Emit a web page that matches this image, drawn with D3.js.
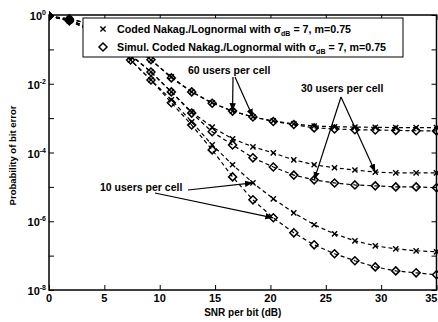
<!DOCTYPE html>
<html><head><meta charset="utf-8">
<script src="https://cdn.jsdelivr.net/npm/d3@7"></script>
<style>
body{margin:0;background:#fff}
svg{display:block}
text{font-family:"Liberation Sans",Arial,sans-serif;font-weight:bold;fill:#000}
</style>
</head><body>
<svg id="c" width="438" height="322"></svg>
<script>
// ---- data ----
const snr = [0, 1.84, 3.68, 5.53, 7.37, 9.21, 11.05, 12.89, 14.74, 16.58, 18.42, 20.26, 22.11, 23.95, 25.79, 27.63, 29.47, 31.32, 33.16, 35];
const ana60 = [0.93, 0.77, 0.55, 0.32, 0.144, 0.049, 0.0158, 0.0058, 0.0028, 0.0016, 0.00108, 8.3e-4, 6.8e-4, 5.9e-4, 5.6e-4, 5.5e-4, 5.4e-4, 5.3e-4, 5.3e-4, 5.3e-4];
const sim60 = [0.93, 0.77, 0.55, 0.32, 0.144, 0.050, 0.0148, 0.0058, 0.0027, 0.0016, 0.00108, 8.0e-4, 6.5e-4, 5.2e-4, 4.85e-4, 4.6e-4, 4.5e-4, 4.4e-4, 4.3e-4, 4.25e-4];
const ana30 = [0.93, 0.72, 0.42, 0.19, 0.069, 0.022, 0.0058, 0.0015, 5.5e-4, 2.5e-4, 1.46e-4, 9.7e-5, 6.1e-5, 4.4e-5, 3.6e-5, 3.1e-5, 2.7e-5, 2.55e-5, 2.55e-5, 2.55e-5];
const sim30 = [0.93, 0.72, 0.42, 0.19, 0.069, 0.022, 0.0058, 0.0014, 4.0e-4, 1.66e-4, 7.0e-5, 3.8e-5, 2.2e-5, 1.6e-5, 1.3e-5, 1.14e-5, 1.07e-5, 1.0e-5, 1.0e-5, 9.4e-6];
const ana10 = [0.93, 0.67, 0.37, 0.153, 0.049, 0.0129, 0.0034, 7.8e-4, 1.66e-4, 4.4e-5, 1.31e-5, 4.5e-6, 1.75e-6, 7.9e-7, 4.3e-7, 2.7e-7, 1.93e-7, 1.58e-7, 1.38e-7, 1.29e-7];
const sim10 = [0.93, 0.67, 0.37, 0.153, 0.049, 0.0129, 0.0028, 6.3e-4, 1.19e-4, 1.95e-5, 4.2e-6, 1.26e-6, 4.6e-7, 2.06e-7, 1.13e-7, 7.1e-8, 4.7e-8, 3.6e-8, 3.16e-8, 2.77e-8];
const xTicks = [0, 5, 10, 15, 20, 25, 30, 35];
const yDecades = [1, 1e-1, 1e-2, 1e-3, 1e-4, 1e-5, 1e-6, 1e-7, 1e-8];
const yLabelExps = [0, -2, -4, -6, -8];
const legendMain = ["Coded Nakag./Lognormal with \u03c3", "Simul. Coded Nakag./Lognormal with \u03c3"];
const legendSub = "dB";
const legendTail = " = 7, m=0.75";
const xTitle = "SNR per bit (dB)";
const yTitle = "Probability of bit error";
const annoLabels = ["60 users per cell", "30 users per cell", "10 users per cell"];

// ---- layout ----
const svg = d3.select("#c");
const L = 49, R = 436.5, T = 15, B = 290;
const x = d3.scaleLinear().domain([0, 35]).range([L, R]);
const y = d3.scaleLog().domain([1e-8, 1]).range([B, T]);

// axes (inward ticks)
svg.append("g").attr("transform", `translate(0,${B})`)
  .call(d3.axisBottom(x).tickValues(xTicks).tickSize(-5).tickFormat(""))
  .call(g => g.select(".domain").remove());
svg.append("g").attr("transform", `translate(0,${T})`)
  .call(d3.axisTop(x).tickValues(xTicks).tickSize(-5).tickFormat(""))
  .call(g => g.select(".domain").remove());
svg.append("g").attr("transform", `translate(${L},0)`)
  .call(d3.axisLeft(y).tickValues(yDecades).tickSize(-5).tickFormat(""))
  .call(g => g.select(".domain").remove());
svg.append("g").attr("transform", `translate(${R},0)`)
  .call(d3.axisRight(y).tickValues(yDecades).tickSize(-5).tickFormat(""))
  .call(g => g.select(".domain").remove());
svg.selectAll(".tick line").attr("stroke", "#000").attr("stroke-width", 1);

svg.append("rect").attr("x", L).attr("y", T).attr("width", R - L).attr("height", B - T)
  .attr("fill", "none").attr("stroke", "#000").attr("stroke-width", 1.5);

// tick labels
const lastX = xTicks[xTicks.length - 1];
svg.append("g").selectAll("text").data(xTicks).join("text")
  .attr("x", d => d === lastX ? 437.5 : x(d)).attr("y", B + 12)
  .attr("text-anchor", d => d === lastX ? "end" : "middle")
  .attr("font-size", 11).text(d => d);
const yl = svg.append("g").selectAll("text").data(yLabelExps).join("text")
  .attr("x", L - 3).attr("y", d => y(Math.pow(10, d)) + 5).attr("text-anchor", "end")
  .attr("font-size", 11);
yl.append("tspan").text("10");
yl.append("tspan").attr("dy", -5).attr("font-size", 7).text(d => d);

// titles
svg.append("text").attr("x", (L + R) / 2).attr("y", 316).attr("text-anchor", "middle")
  .attr("font-size", 10).text(xTitle);
svg.append("text").attr("transform", `translate(16,${(T + B) / 2 + 3}) rotate(-90)`)
  .attr("text-anchor", "middle").attr("font-size", 9.5).text(yTitle);

// curves
svg.append("clipPath").attr("id", "pc").append("rect")
  .attr("x", L).attr("y", T - 4).attr("width", R - L + 4).attr("height", B - T + 8);
const plot = svg.append("g").attr("clip-path", "url(#pc)");
const line = d3.line().x((d, i) => x(snr[i])).y(d => y(d));
const series = [
  {v: ana60, m: "x"}, {v: sim60, m: "d"},
  {v: ana30, m: "x"}, {v: sim30, m: "d"},
  {v: ana10, m: "x"}, {v: sim10, m: "d"}
];
function marker(g, type, cx, cy) {
  if (type === "x") {
    const s = 2.6;
    g.append("path").attr("d", `M${cx - s},${cy - s}L${cx + s},${cy + s}M${cx - s},${cy + s}L${cx + s},${cy - s}`)
      .attr("stroke", "#000").attr("stroke-width", 1.4).attr("fill", "none");
  } else {
    const s = 4;
    g.append("path").attr("d", `M${cx},${cy - s}L${cx + s},${cy}L${cx},${cy + s}L${cx - s},${cy}Z`)
      .attr("stroke", "#000").attr("stroke-width", 1.5).attr("fill", "none");
  }
}
series.forEach(s => {
  plot.append("path").datum(s.v).attr("d", line).attr("fill", "none")
    .attr("stroke", "#000").attr("stroke-width", 1.2).attr("stroke-dasharray", "4,3");
  s.v.forEach((v, i) => marker(plot, s.m, x(snr[i]), y(v)));
});

// annotations
const defs = svg.append("defs");
defs.append("marker").attr("id", "ah").attr("viewBox", "0 0 10 10").attr("refX", 10).attr("refY", 5)
  .attr("markerWidth", 8).attr("markerHeight", 8).attr("markerUnits", "userSpaceOnUse").attr("orient", "auto")
  .append("path").attr("d", "M0,1L10,5L0,9Z").attr("fill", "#000");
function arrow(x1, y1, x2, y2) {
  svg.append("line").attr("x1", x1).attr("y1", y1).attr("x2", x2).attr("y2", y2)
    .attr("stroke", "#000").attr("stroke-width", 1.2).attr("marker-end", "url(#ah)");
}
svg.append("text").attr("x", 188).attr("y", 74).attr("font-size", 10.5).text(annoLabels[0]);
arrow(233, 77, x(snr[9]), y(sim60[9]));
arrow(235, 77, x(snr[10]), y(sim60[10]));
svg.append("text").attr("x", 301).attr("y", 92).attr("font-size", 10.5).text(annoLabels[1]);
arrow(341, 97, x(snr[13]), y(sim30[13]));
arrow(341, 97, x(snr[16]), y(ana30[16]));
svg.append("text").attr("x", 100).attr("y", 191).attr("font-size", 10.5).text(annoLabels[2]);
arrow(188, 190, x(snr[10]), y(ana10[10]));
arrow(155, 193, x(snr[11]), y(sim10[11]));

// legend
const lg = svg.append("g");
lg.append("rect").attr("x", 83).attr("y", 18).attr("width", 320).attr("height", 39)
  .attr("fill", "#fff").attr("stroke", "#000").attr("stroke-width", 1);
["x", "d"].forEach((m, i) => {
  const cy = 29 + i * 18;
  marker(lg, m, 103, cy);
  const t = lg.append("text").attr("x", 117).attr("y", cy + 4).attr("font-size", 10.7);
  t.append("tspan").text(legendMain[i]);
  t.append("tspan").attr("dy", 3).attr("font-size", 7).text(legendSub);
  t.append("tspan").attr("dy", -3).text(legendTail);
});
</script>
</body></html>
